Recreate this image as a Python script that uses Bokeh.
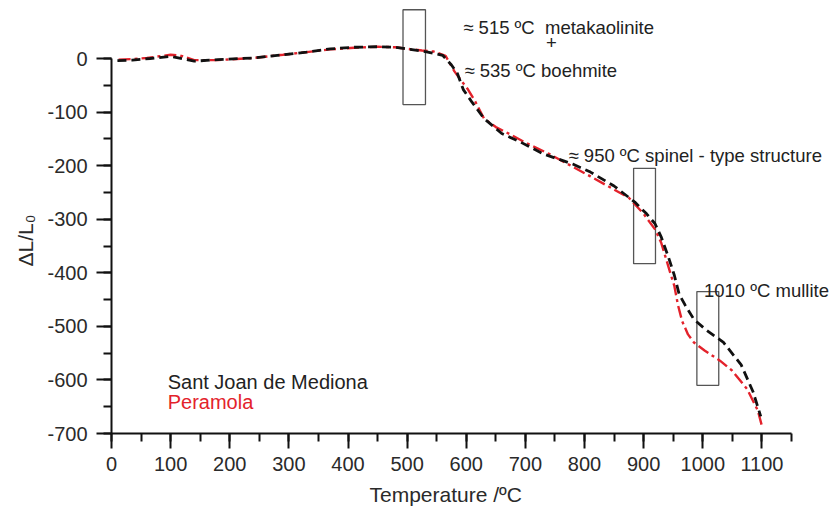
from bokeh.plotting import figure
from bokeh.models import Range1d, SingleIntervalTicker, ColumnDataSource, CustomJSTickFormatter, Title
from bokeh.core.properties import value
from bokeh.embed import file_html
from bokeh.resources import INLINE

# ---- data ----
temp_black = [10, 35, 65, 100, 140, 180, 240, 290, 330, 370, 410, 450, 480, 505, 535, 560,
              575, 585, 595, 610, 630, 660, 690, 730, 780, 810, 850, 885, 905, 919, 930, 942,
              952, 960, 970, 985, 1005, 1035, 1065, 1085, 1098]
dl_black = [-4, -3, 0, 4, -5, -2, 1, 7, 12, 18, 21, 22, 21, 17, 12, 6,
            -12, -28, -58, -82, -112, -140, -155, -178, -197, -212, -238, -268, -290, -308, -334, -371,
            -405, -440, -460, -487, -506, -530, -572, -622, -668]

temp_red = [12, 35, 60, 100, 115, 140, 180, 240, 290, 330, 370, 410, 450, 480, 500, 525, 545,
            565, 580, 592, 603, 615, 630, 650, 675, 700, 740, 810, 875, 900, 920, 930, 945,
            952, 958, 965, 975, 985, 1003, 1029, 1049, 1075, 1093, 1100]
dl_red = [-2, -1, 1, 7, 6, -3, -3, 1, 7, 12, 17, 20, 22, 21, 18, 15, 13,
          5, -24, -42, -58, -80, -112, -128, -142, -157, -178, -220, -260, -290, -320, -345, -400,
          -425, -460, -490, -515, -530, -545, -564, -582, -617, -657, -686]

box_left = [493, 883, 990]
box_right = [531, 920, 1027]
box_top = [91, -205, -435]
box_bottom = [-86, -383, -610]

note_x = [595, 597, 773, 1002]
note_y = [58, -22, -181, -433]
note_text = ["≈ 515 ºC\u00a0 metakaolinite", "≈ 535 ºC boehmite",
             "≈ 950 ºC spinel - type structure", "1010 ºC mullite"]
plus_x = [744]
plus_y = [30]

legend_x = [95, 95]
legend_y = [-603, -642]
legend_text = ["Sant Joan de Mediona", "Peramola"]
legend_color = ["#222222", "#e3222b"]

x_axis_title = "Temperature /ºC"
y_axis_title = "ΔL/L₀"
x_ticks_interval = 100
y_ticks_interval = 100

FONT = "Liberation Sans"

p = figure(width=829, height=515, output_backend="svg", toolbar_location=None,
           x_range=Range1d(0, 1214.3), y_range=Range1d(-700, 108.3),
           min_border_left=111, min_border_right=0, min_border_top=0, min_border_bottom=82)
p.outline_line_color = None
p.xgrid.visible = False
p.ygrid.visible = False
p.background_fill_color = "white"
p.border_fill_color = "white"

for ax in (p.xaxis[0], p.yaxis[0]):
    ax.axis_line_width = 2
    ax.axis_line_color = "#111111"
    ax.major_tick_line_width = 2
    ax.minor_tick_line_width = 2
    ax.major_tick_line_color = "#111111"
    ax.minor_tick_line_color = "#111111"
    ax.major_tick_out = 15
    ax.major_tick_in = 0
    ax.minor_tick_out = 8
    ax.minor_tick_in = 0
    ax.major_label_text_font = FONT
    ax.major_label_text_font_size = "20px"
    ax.major_label_text_color = "#2a2a2a"
    ax.formatter = CustomJSTickFormatter(code="return tick.toFixed(0);")

p.xaxis.ticker = SingleIntervalTicker(interval=x_ticks_interval, num_minor_ticks=2)
p.yaxis.ticker = SingleIntervalTicker(interval=y_ticks_interval, num_minor_ticks=2)
p.xaxis.bounds = (0, 1150)
p.yaxis.bounds = (-700, 0)
p.xaxis.major_label_standoff = 8
p.yaxis.major_label_standoff = 9

# axis titles as side titles so they can be centred on the drawn axes
xt = Title(text=x_axis_title, align="left", offset=258, standoff=14,
           text_font=FONT, text_font_size="21px", text_font_style="normal", text_color="#2a2a2a")
p.add_layout(xt, "below")
yt = Title(text=y_axis_title, align="left", offset=167, standoff=15,
           text_font=FONT, text_font_size="21px", text_font_style="normal", text_color="#2a2a2a")
p.add_layout(yt, "left")

# boxes
p.quad(left=box_left, right=box_right, top=box_top, bottom=box_bottom,
       fill_color=None, line_color="#555555", line_width=1.3)

# curves
p.line(temp_red, dl_red, line_color="#e3222b", line_width=2.4, line_dash="12 4 3 4")
p.line(temp_black, dl_black, line_color="#111111", line_width=2.8, line_dash="9 5")

# annotations
p.text(x=note_x, y=note_y, text=note_text, text_font=value(FONT), text_font_size="18.5px",
       text_color="#222222", text_align="left", text_baseline="alphabetic")
p.text(x=plus_x, y=plus_y, text=["+"], text_font=value(FONT), text_font_size="18.5px",
       text_color="#222222", text_align="center", text_baseline="middle")

src = ColumnDataSource(dict(x=legend_x, y=legend_y, t=legend_text, c=legend_color))
p.text(x="x", y="y", text="t", text_color="c", source=src, text_font=value(FONT),
       text_font_size="20px", text_align="left", text_baseline="alphabetic")

open("out.html", "w").write(file_html(p, INLINE))
